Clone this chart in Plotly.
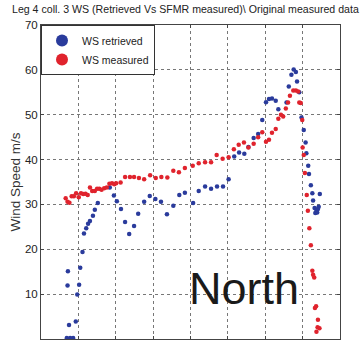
import plotly.graph_objects as go

title_text = "Leg 4 coll. 3 WS (Retrieved Vs SFMR measured)\\ Original measured data"
y_ticks = [0, 10, 20, 30, 40, 50, 60, 70]

# WS measured (red)
meas_x = [0.66, 0.71, 0.76, 0.82, 0.88, 0.94, 1.01, 1.07, 1.13, 1.19, 1.25, 1.31, 1.37, 1.44,
          1.50, 1.56, 1.62, 1.69, 1.76, 1.83, 1.90, 1.96, 2.01, 2.13, 2.25, 2.38, 2.49, 2.62,
          2.76, 2.92, 3.07, 3.22, 3.38, 3.54, 3.69, 3.85, 4.06, 4.22, 4.39, 4.55, 4.70, 4.86,
          5.02, 5.16, 5.29, 5.43, 5.55, 5.69, 5.81, 5.92, 6.02, 6.10, 6.18, 6.28, 6.35, 6.42,
          6.48, 6.55, 6.61, 6.66, 6.75, 6.82, 6.88, 6.91, 6.95, 6.99, 7.00, 7.03, 7.06, 7.11,
          7.14, 7.18, 7.22, 7.26, 7.28, 7.31, 7.33, 7.36, 7.41, 7.40, 7.45, 7.37]
meas_y = [31.4, 30.6, 30.4, 31.8, 31.8, 32.5, 31.6, 32.5, 32.3, 32.4, 32.1, 33.8, 33.0, 33.0,
          33.5, 33.5, 33.3, 33.6, 33.8, 34.6, 34.7, 34.5, 34.7, 34.9, 36.1, 36.1, 36.1, 35.9,
          35.6, 36.5, 35.9, 36.1, 36.0, 37.5, 37.2, 38.1, 38.6, 39.2, 39.4, 39.4, 41.0, 40.2,
          40.5, 42.3, 43.3, 43.8, 42.7, 43.5, 45.0, 46.1, 44.0, 44.4, 46.0, 46.8, 49.1, 50.0,
          49.6, 51.4, 52.7, 54.2, 55.4, 55.4, 55.2, 52.7, 52.6, 48.8, 42.7, 41.0, 37.0, 32.1,
          28.6, 24.7, 20.9, 15.2, 14.3, 13.7, 6.9, 7.3, 4.3, 2.6, 2.4, 1.6]

# WS retrieved (blue)
retr_x = [0.69, 0.78, 0.86, 0.71, 0.72, 0.75, 0.93, 0.97, 1.02, 1.05, 1.11, 1.15, 1.21, 1.26,
          1.31, 1.39, 1.44, 1.52, 1.84, 1.95, 2.03, 2.14, 2.25, 2.36, 2.49, 2.60, 2.76, 2.91,
          3.06, 3.21, 3.37, 3.54, 3.70, 3.85, 4.07, 4.22, 4.39, 4.55, 4.71, 4.87, 5.02, 5.17,
          5.30, 5.44, 5.55, 5.69, 5.81, 5.92, 6.02, 6.10, 6.18, 6.28, 6.35, 6.57, 6.63, 6.70,
          6.76, 6.82, 6.85, 6.91, 6.97, 7.03, 7.08, 7.10, 7.15, 7.17, 7.22, 7.26, 7.46, 7.28,
          7.32, 7.37, 7.41, 7.34, 7.39, 7.43]
retr_y = [0.2, 0.2, 0.2, 11.9, 15.1, 3.1, 3.9, 9.9, 12.1, 15.9, 19.4, 23.5, 24.7, 25.7,
          26.3, 27.5, 28.8, 30.3, 33.8, 32.0, 30.7, 29.0, 26.1, 23.4, 25.2, 27.9, 30.6, 31.9,
          31.2, 30.6, 27.8, 29.7, 32.1, 32.6, 30.3, 33.0, 34.0, 33.5, 34.0, 34.0, 35.6, 40.7,
          41.6, 41.3, 42.8, 44.8, 45.7, 48.8, 52.8, 53.5, 53.6, 53.1, 51.2, 52.7, 56.3, 58.9,
          60.1, 59.5, 57.4, 55.0, 49.4, 46.6, 43.8, 41.4, 38.6, 36.8, 34.3, 32.5, 32.3, 30.9,
          29.2, 28.6, 29.0, 28.1, 28.2, 29.5]

sans = "Liberation Sans, Arial, sans-serif"

fig = go.Figure()
fig.add_trace(go.Scatter(x=retr_x, y=retr_y, mode="markers", name="WS retrieved",
                         marker=dict(color="#2a3b9c", size=4.5, symbol="circle")))
fig.add_trace(go.Scatter(x=meas_x, y=meas_y, mode="markers", name="WS measured",
                         marker=dict(color="#e0232d", size=4.5, symbol="circle")))

fig.add_annotation(x=5.43, y=11.2, xref="x", yref="y", text="North", showarrow=False,
                   font=dict(family=sans, size=45, color="#1a1a1a"))

fig.update_layout(
    width=364, height=340,
    margin=dict(l=41, r=24, t=25, b=1),
    paper_bgcolor="white", plot_bgcolor="white",
    title=dict(text=title_text, x=0.033, xanchor="left", y=0.972, yanchor="middle",
               font=dict(family=sans, size=10.6, color="#222")),
    font=dict(family=sans, size=11, color="#222"),
    showlegend=True,
    legend=dict(x=0, y=1, xanchor="left", yanchor="top", bgcolor="white",
                bordercolor="#333", borderwidth=1, font=dict(family=sans, size=10.5),
                itemsizing="constant", tracegroupgap=0, itemwidth=30),
    xaxis=dict(range=[0, 8], dtick=1, showticklabels=False, showgrid=True,
               gridcolor="#777", griddash="dot", gridwidth=1,
               showline=True, linecolor="#444", mirror="ticks", ticks="inside", ticklen=3,
               tickcolor="#444", zeroline=False),
    yaxis=dict(range=[0, 70], tickvals=y_ticks, showgrid=True,
               gridcolor="#777", griddash="dot", gridwidth=1,
               showline=True, linecolor="#444", mirror="ticks", ticks="inside", ticklen=3,
               tickcolor="#444", zeroline=False,
               title=dict(text="Wind Speed m/s", font=dict(family=sans, size=13.5, color="#333"),
                          standoff=1),
               tickfont=dict(family=sans, size=11.5)),
)

fig.write_html("out.html")
